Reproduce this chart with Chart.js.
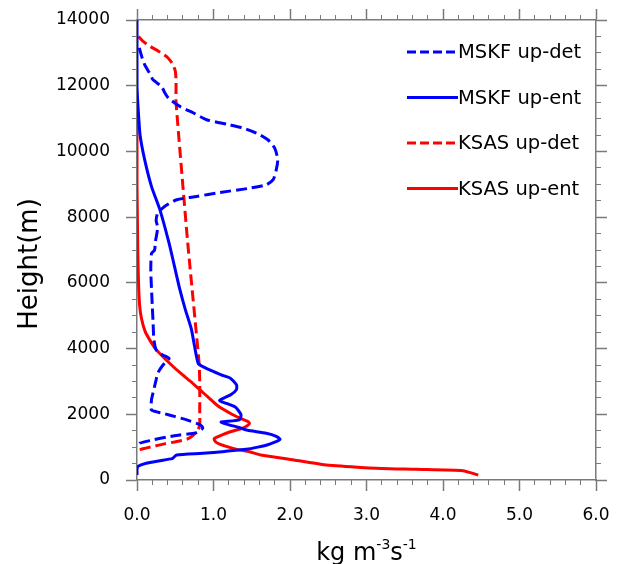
<!DOCTYPE html>
<html>
<head>
<meta charset="utf-8">
<script src="https://cdn.jsdelivr.net/npm/chart.js@4.4.1/dist/chart.umd.min.js"></script>
<style>
  html, body { margin: 0; padding: 0; background: #fff; }
  #wrap { width: 621px; height: 564px; }
</style>
</head>
<body>
<div id="wrap"><canvas id="chartProfile" width="621" height="564"></canvas></div>
<script>
// vertical profiles: height (m) against mass flux (kg m-3 s-1)
const mskfDetHeight = [13150, 12900, 12640, 12400, 12180, 11980, 11800, 11625, 11370, 11170,
  10965, 10810, 10710, 10560, 10355, 10100, 9750, 9440, 9140, 8985, 8880, 8750, 8630, 8530,
  8325, 8120, 7900, 7700, 7500, 7250, 7000, 6900, 6400, 5800, 5300, 4800, 4300, 3960, 3800,
  3700, 3500, 3250, 3050, 2750, 2450, 2130, 2030, 1930, 1830, 1675, 1580, 1440, 1370, 1300,
  1220, 1120, 1020];
const mskfDetValue = [0.03, 0.06, 0.10, 0.16, 0.21, 0.32, 0.36, 0.41, 0.56, 0.74,
  0.91, 1.21, 1.39, 1.56, 1.71, 1.80, 1.84, 1.82, 1.78, 1.69, 1.47, 1.08, 0.78, 0.52,
  0.36, 0.27, 0.25, 0.27, 0.26, 0.24, 0.23, 0.19, 0.18, 0.19, 0.20, 0.21, 0.22, 0.25, 0.34,
  0.42, 0.34, 0.27, 0.25, 0.22, 0.19, 0.19, 0.34, 0.50, 0.65, 0.83, 0.86, 0.78, 0.56, 0.38,
  0.21, 0.04, 0.01];

const mskfEntHeight = [14000, 12000, 11300, 10500, 9750, 8930, 8220, 7200, 6500, 5800,
  5200, 4600, 4100, 3550, 3450, 3350, 3200, 3100, 2900, 2750, 2600, 2420, 2330, 2230, 2100,
  1980, 1830, 1765, 1700, 1600, 1520, 1420, 1330, 1240, 1150, 1066, 1000, 935, 870, 812,
  761, 690, 650, 580, 508, 406, 300, 150];
const mskfEntValue = [0, 0, 0.015, 0.04, 0.10, 0.19, 0.30, 0.42, 0.49, 0.56,
  0.63, 0.71, 0.75, 0.80, 0.86, 0.95, 1.10, 1.22, 1.30, 1.30, 1.23, 1.08, 1.17, 1.28, 1.33,
  1.36, 1.34, 1.10, 1.17, 1.33, 1.43, 1.69, 1.82, 1.87, 1.80, 1.70, 1.58, 1.43, 1.15, 0.86,
  0.52, 0.48, 0.46, 0.28, 0.12, 0.01, 0, 0];

const ksasDetHeight = [13500, 13350, 13200, 13050, 12900, 12750, 12640, 12450, 12200, 11800,
  11500, 7300, 3600, 3000, 2000, 1726, 1520, 1421, 1300, 1239, 1170, 1100, 1015, 950, 914];
const ksasDetValue = [0.02, 0.08, 0.17, 0.28, 0.38, 0.44, 0.47, 0.50, 0.51, 0.51,
  0.51, 0.66, 0.81, 0.82, 0.82, 0.82, 0.80, 0.76, 0.70, 0.65, 0.52, 0.36, 0.20, 0.08, 0.03];

const ksasEntHeight = [11300, 9000, 8000, 7000, 6000, 5300, 4900, 4500, 4250, 4000,
  3750, 3500, 3250, 3000, 2750, 2500, 2250, 2000, 1900, 1780, 1720, 1650, 1575, 1470, 1380,
  1260, 1180, 1090, 1000, 925, 860, 760, 610, 475, 405, 350, 325, 283, 150];
const ksasEntValue = [0, 0, 0.005, 0.01, 0.02, 0.035, 0.06, 0.11, 0.17, 0.24,
  0.34, 0.45, 0.57, 0.70, 0.82, 0.94, 1.06, 1.24, 1.33, 1.45, 1.47, 1.44, 1.38, 1.22, 1.12,
  1.01, 1.02, 1.08, 1.20, 1.32, 1.47, 1.62, 2.05, 2.42, 2.80, 3.20, 3.65, 4.26, 4.46];

const xTickLabels = ['0.0', '1.0', '2.0', '3.0', '4.0', '5.0', '6.0'];

const FONT = 'DejaVu Sans';
const GRAY = '#7a7a7a';

function profile(heights, values) {
  return heights.map((h, i) => ({ x: values[i], y: h }));
}

function series(label, color, dashed, heights, values) {
  return {
    label: label,
    data: profile(heights, values),
    borderColor: color,
    borderWidth: 3,
    borderDash: dashed ? [11, 5] : [],
    pointRadius: 0,
    tension: 0.2,
    fill: false
  };
}

// one axis for the long ticks (with labels), one for the short ones
function axis(position, min, max, step, tickLen, size, weight, opts) {
  opts = opts || {};
  return {
    type: 'linear',
    position: position,
    min: min,
    max: max,
    weight: weight,
    ticks: Object.assign({ stepSize: step, display: false }, opts.ticks || {}),
    grid: {
      drawOnChartArea: false,
      drawTicks: true,
      tickLength: tickLen,
      tickColor: GRAY,
      tickWidth: tickLen > 6 ? 1.5 : 1
    },
    border: opts.border || { display: false },
    afterFit: function (scale) {
      if (scale.isHorizontal()) scale.height = size; else scale.width = size;
      // fixed frame: labels may hang over the edges
      scale.paddingTop = scale.paddingBottom = 0;
      scale.paddingLeft = scale.paddingRight = 0;
    }
  };
}

const frame = { display: true, color: GRAY, width: 1.5 };

const overlay = {
  id: 'overlay',
  afterDraw(chart) {
    const ctx = chart.ctx;
    const area = chart.chartArea;
    ctx.save();

    // legend, upper right inside the frame
    const lx0 = area.right - 189, lx1 = area.right - 138;
    chart.data.datasets.forEach((ds, i) => {
      const y = 52 + i * 45.5;
      ctx.strokeStyle = ds.borderColor;
      ctx.lineWidth = 3;
      ctx.setLineDash(ds.borderDash.length ? [9, 4] : []);
      ctx.beginPath();
      ctx.moveTo(lx0, y);
      ctx.lineTo(lx1, y);
      ctx.stroke();
      ctx.setLineDash([]);
      ctx.fillStyle = '#000';
      ctx.font = '19.5px "' + FONT + '"';
      ctx.textAlign = 'left';
      ctx.textBaseline = 'middle';
      ctx.fillText(ds.label, lx1, y + 1);
    });

    // y title
    ctx.save();
    ctx.translate(37, 264);
    ctx.rotate(-Math.PI / 2);
    ctx.font = '26px "' + FONT + '"';
    ctx.textAlign = 'center';
    ctx.textBaseline = 'alphabetic';
    ctx.fillStyle = '#000';
    ctx.fillText('Height(m)', 0, 0);
    ctx.restore();

    // x title with superscripts
    const parts = [['kg m', false], ['-3', true], ['s', false], ['-1', true]];
    const mainFont = '24px "' + FONT + '"', supFont = '14px "' + FONT + '"';
    let total = 0;
    parts.forEach(p => { ctx.font = p[1] ? supFont : mainFont; total += ctx.measureText(p[0]).width; });
    let x = (area.left + area.right) / 2 - total / 2;
    const base = 560;
    ctx.textAlign = 'left';
    ctx.textBaseline = 'alphabetic';
    parts.forEach(p => {
      ctx.font = p[1] ? supFont : mainFont;
      ctx.fillText(p[0], x, p[1] ? base - 11 : base);
      x += ctx.measureText(p[0]).width;
    });
    ctx.restore();
  }
};

new Chart(document.getElementById('chartProfile').getContext('2d'), {
  type: 'line',
  data: {
    datasets: [
      series('MSKF up-det', '#0000ff', true, mskfDetHeight, mskfDetValue),
      series('MSKF up-ent', '#0000ff', false, mskfEntHeight, mskfEntValue),
      series('KSAS up-det', '#ff0000', true, ksasDetHeight, ksasDetValue),
      series('KSAS up-ent', '#ff0000', false, ksasEntHeight, ksasEntValue)
    ]
  },
  options: {
    responsive: false,
    devicePixelRatio: 1,
    animation: false,
    layout: { padding: 0 },
    plugins: {
      legend: { display: false },
      tooltip: { enabled: false }
    },
    scales: {
      x: axis('bottom', 0, 6, 1, 11, 84, 1, {
        border: frame,
        ticks: {
          display: true,
          padding: 14,
          color: '#000',
          font: { family: FONT, size: 17 },
          callback: (v, i) => xTickLabels[i]
        }
      }),
      xMinor: axis('bottom', 0, 6, 0.2, 5, 0, 0),
      xTop: axis('top', 0, 6, 1, 11, 20, 1, { border: frame }),
      xTopMinor: axis('top', 0, 6, 0.2, 5, 0, 0),
      y: axis('left', 0, 14000, 2000, 11, 137, 1, {
        border: frame,
        ticks: {
          display: true,
          padding: 16,
          color: '#000',
          font: { family: FONT, size: 17 },
          callback: v => String(v)
        }
      }),
      yMinor: axis('left', 0, 14000, 500, 5, 0, 0),
      yRight: axis('right', 0, 14000, 2000, 11, 25, 1, { border: frame }),
      yRightMinor: axis('right', 0, 14000, 500, 5, 0, 0)
    }
  },
  plugins: [overlay]
});
</script>
</body>
</html>
